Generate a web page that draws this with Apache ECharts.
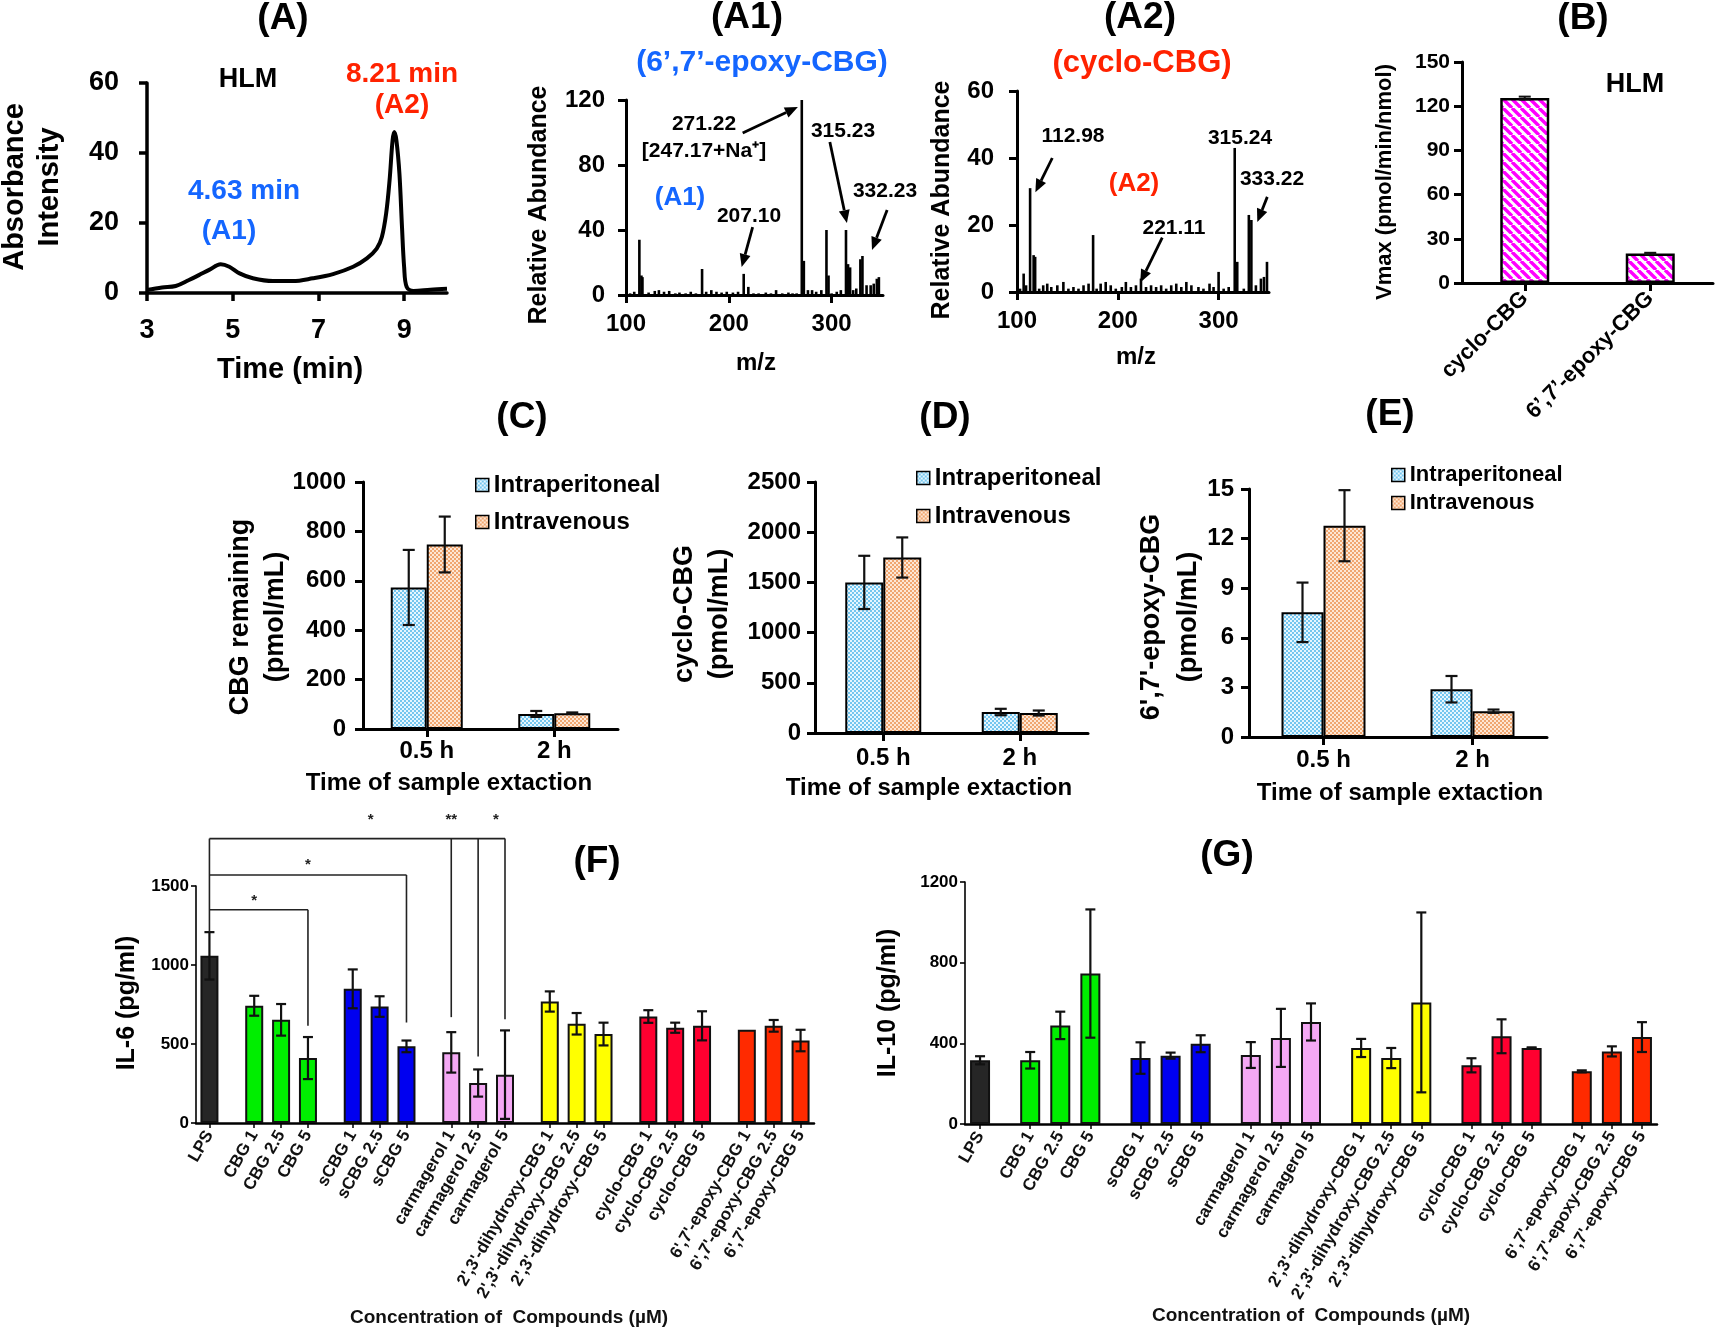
<!DOCTYPE html>
<html><head><meta charset="utf-8">
<script src="https://cdn.jsdelivr.net/npm/echarts/dist/echarts.min.js"></script>
<style>html,body{margin:0;padding:0;background:#fff}#c{width:1718px;height:1331px}</style>
</head><body><div id="c"></div>
<script>
// ================= DATA =================
// (A) HLM chromatogram
const chromTime = [3.0,3.35,3.67,3.98,4.21,4.45,4.72,4.92,5.16,5.47,5.94,6.40,6.87,7.34,7.81,8.13,8.36,8.48,8.58,8.66,8.73,8.77,8.82,8.89,8.95,9.0,9.06,9.22,9.61,10.0];
const chromAbs  = [0.9,1.6,2.0,3.7,5.1,6.6,8.2,7.5,5.6,4.2,3.4,3.4,4.2,5.4,7.5,9.9,12.7,16.0,22.7,32.2,43.6,46.0,43.6,34.1,18.8,7.4,1.7,0.6,0.95,1.2];
const chromXTicks = [3,5,7,9];

// (A1) mass spectrum of 6',7'-epoxy-CBG
const a1Mz  = [104,108,113,115,116,122,128,132,137,142,148,152,158,163,168,174,178,183,188,193,198,204,209,214.5,219,224,229,236,241,246,252,258,262,266,271,273,277,281,285,290,295,297,300,305,309,314,316,318,321,324,328,330,334,338,341,344,346];
const a1Int = [1,2,34,12,11,1.5,2.5,3,2,2.5,1,1.5,1,2,1,16,2,3,2,1.5,2,1.5,2,13,5,1,1,1.5,1,3,1,1.5,1,1,120,21,3,3,2,3,40,12,1,2,3,40,19,17,3,4,22,24,6,6,7,10,11];
const a1Arrows = [[213.5,99.7,267.2,115.7],[298.3,94.2,314.9,44.3],[354,52.3,339.3,27.7],[223.2,41.8,212.5,17.2]];

// (A2) mass spectrum of cyclo-CBG
const a2Mz  = [103,106.6,109,113,116.5,118,122,126,130,134,140,146,151,156,161,166,171,175.5,179,183,188,193,198,204,208,213,218,223,228,233,238,243,248,253,258,263,268,273,280,285,291,295,300,305,310,316,318.5,325,330,332.5,337,342,345,348];
const a2Int = [1,5.5,2,31,11,10.5,1,2,2.5,1.5,2,3,1,1.5,1,2,2.5,17,1,2.5,3,2,1,1.5,3,1.5,2,4,1.5,2,1.5,2,1,2,2.5,1.5,3,2,1.5,1,2.5,1.5,6,1,1.5,43,9,1,23,21.5,2,4,4.5,9];
const a2Arrows = [[135,40,118.2,29.8],[244.1,16.2,222.3,2.8],[348.3,28.4,338.4,20.9]];
const msXTicks = [100,200,300];

// (B) Vmax HLM
const vmaxCats = ['cyclo-CBG', '6\u2019,7\u2019-epoxy-CBG'];
const vmaxVals = [125.5, 20];
const vmaxErr  = [1, 0.5];

// (C)(D)(E) in vivo
const timeCats = ['0.5 h', '2 h'];
const routeNames = ['Intraperitoneal', 'Intravenous'];
const cbgIP = [573, 61];    const cbgIPErr = [152, 12];
const cbgIV = [747, 64];    const cbgIVErr = [113, 3];
const cycIP = [1500, 209];  const cycIPErr = [265, 32];
const cycIV = [1748, 199];  const cycIVErr = [200, 25];
const epoIP = [7.54, 2.89]; const epoIPErr = [1.8, 0.8];
const epoIV = [12.78, 1.56];const epoIVErr = [2.15, 0.1];

// (F)(G) cytokines
const cmpGroups = [
  ['LPS'],
  ['CBG 1','CBG 2.5','CBG 5'],
  ['sCBG 1','sCBG 2.5','sCBG 5'],
  ['carmagerol 1','carmagerol 2.5','carmagerol 5'],
  ["2',3'-dihydroxy-CBG 1","2',3'-dihydroxy-CBG 2.5","2',3'-dihydroxy-CBG 5"],
  ['cyclo-CBG 1','cyclo-CBG 2.5','cyclo-CBG 5'],
  ["6',7'-epoxy-CBG 1","6',7'-epoxy-CBG 2.5","6',7'-epoxy-CBG 5"]
];
const cmpColors = ['#262626','#00ee00','#0000f0','#f4a8f4','#ffff00','#ff0030','#ff2a00'];
const il6Mean = [1058, 742,653,411, 849,737,485, 447,253,306, 769,628,563, 674,603,615, 590,615,522];
const il6Err  = [150, 63,100,133, 123,65,37, 128,86,280, 64,68,72, 40,32,92, 0,37,68];
const il10Mean = [316, 316,489,746, 327,339,398, 342,427,506, 377,327,603, 291,435,377, 261,360,431];
const il10Err  = [20, 41,68,318, 78,15,42, 64,144,92, 45,50,446, 35,84,3, 5,25,74];
// significance brackets (IL-6): from LPS to target, level, drop ends, stars (label index, y value)
const il6Sig = [
  {level:1350, end:3, drops:[[3,615]], stars:[['*',1,1432]]},
  {level:1570, end:6, drops:[[6,636]], stars:[['*',3,1658]]},
  {level:1800, end:9, drops:[[7,670],[8,421],[9,657]], stars:[['*',4.63,1942],['**',7,1942],['*',8.54,1942]]}
];

// ================= BUILD =================
const FONT = '"Liberation Sans", Arial, sans-serif';
const bold = s => 'bold ' + s + 'px ' + FONT;
const chart = echarts.init(document.getElementById('c'), null, {renderer:'canvas'});

function pattern(w, draw){ const c=document.createElement('canvas'); c.width=w; c.height=w; draw(c.getContext('2d'), w); return {image:c, repeat:'repeat'}; }
const stripePat = pattern(9, (g,w)=>{ g.fillStyle='#fff'; g.fillRect(0,0,w,w); g.strokeStyle='#ff00ff'; g.lineWidth=3.4; g.beginPath(); for(let k=-w;k<=w;k+=w){ g.moveTo(k,0); g.lineTo(k+w,w);} g.stroke(); });
function dotPat(bg, fg){ return pattern(4,(g)=>{ g.fillStyle=bg; g.fillRect(0,0,4,4); g.fillStyle=fg; g.fillRect(0,0,2,2); g.fillRect(2,2,2,2); }); }
const ipPat = dotPat('#e6f6fe', '#74c6ef');
const ivPat = dotPat('#fde7d5', '#f0a670');

function merge(a,b){ for(const k in b){ if(b[k] && typeof b[k]==='object' && !Array.isArray(b[k]) && a[k] && typeof a[k]==='object'){ merge(a[k], b[k]); } else a[k]=b[k]; } return a; }
const plain = v => String(v);
function axisBase(gi, fs, lw){
  return {gridIndex:gi, splitLine:{show:false},
    axisLine:{show:true, onZero:false, lineStyle:{color:'#000', width:lw}},
    axisTick:{show:true, length:8, lineStyle:{color:'#000', width:lw}},
    axisLabel:{color:'#000', fontFamily:FONT, fontWeight:'bold', fontSize:fs}};
}

const grids = [
  {left:147, top:83, width:300, height:210},   // A
  {left:626, top:100, width:257, height:195},  // A1
  {left:1017, top:91, width:252, height:201},  // A2
  {left:1462, top:62, width:251, height:221},  // B
  {left:363, top:482, width:255, height:247},  // C
  {left:815, top:482, width:273, height:251},  // D
  {left:1249, top:489, width:298, height:248}, // E
  {left:196, top:886, width:618, height:237},  // F
  {left:965, top:882, width:692, height:242}   // G
];

// F/G slot layout
const cmpLabels = cmpGroups.flat();
const cmpGroupOf = []; cmpGroups.forEach((g,gi)=>g.forEach(()=>cmpGroupOf.push(gi)));
const slotOf = []; { let s=1; cmpGroups.forEach(g=>{ g.forEach(()=>{ slotOf.push(s); s+=3; }); s+=2; }); }
const slotCount = slotOf[slotOf.length-1] + 2;
const slotCats = Array.from({length:slotCount}, ()=> '');
slotOf.forEach((k,i)=>{ slotCats[k] = cmpLabels[i]; });
const slotAt = f => { const i=Math.floor(f), j=Math.min(i+1, slotOf.length-1); return slotOf[i] + (f-i)*(slotOf[j]-slotOf[i]); };

const xAxes = [
  merge(axisBase(0,27,3.5), {type:'value', min:3, max:10, axisTick:{customValues:chromXTicks}, axisLabel:{customValues:chromXTicks, margin:24, formatter:plain}}),
  merge(axisBase(1,24,3), {type:'value', min:100, max:350, axisTick:{customValues:msXTicks}, axisLabel:{customValues:msXTicks, margin:17, formatter:plain}}),
  merge(axisBase(2,24,3), {type:'value', min:100, max:350, axisTick:{customValues:msXTicks}, axisLabel:{customValues:msXTicks, margin:17, formatter:plain}}),
  merge(axisBase(3,22,3), {type:'category', data:vmaxCats, axisTick:{alignWithLabel:true}, axisLabel:{rotate:45, margin:12, interval:0}}),
  merge(axisBase(4,24,3), {type:'category', data:timeCats, axisTick:{alignWithLabel:true}, axisLabel:{margin:10}}),
  merge(axisBase(5,24,3), {type:'category', data:timeCats, axisTick:{alignWithLabel:true}, axisLabel:{margin:13}}),
  merge(axisBase(6,24,3), {type:'category', data:timeCats, axisTick:{alignWithLabel:true}, axisLabel:{margin:11}}),
];
const showSlot = (idx, val) => val !== '';
[7,8].forEach(gi=>{
  xAxes.push(merge(axisBase(gi,17,2.5), {type:'category', data:slotCats,
    axisTick:{alignWithLabel:true, interval:showSlot, length:5, lineStyle:{width:1.5}},
    axisLabel:{interval:showSlot, rotate:60, margin:9, fontSize:17, color:'#111'}}));
});

const yAxes = [
  merge(axisBase(0,27,3.5), {type:'value', min:0, max:60, interval:20, axisLabel:{margin:28, formatter:plain}}),
  merge(axisBase(1,24,3), {type:'value', min:0, max:120, interval:40, axisLabel:{margin:21, formatter:plain}}),
  merge(axisBase(2,24,3), {type:'value', min:0, max:60, interval:20, axisLabel:{margin:23, formatter:plain}}),
  merge(axisBase(3,21,3), {type:'value', min:0, max:150, interval:30, axisLabel:{margin:12, formatter:plain}}),
  merge(axisBase(4,24,3), {type:'value', min:0, max:1000, interval:200, axisLabel:{margin:17, formatter:plain}}),
  merge(axisBase(5,24,3), {type:'value', min:0, max:2500, interval:500, axisLabel:{margin:14, formatter:plain}}),
  merge(axisBase(6,24,3), {type:'value', min:0, max:15, interval:3, axisLabel:{margin:15, formatter:plain}}),
  merge(axisBase(7,17,1.6), {type:'value', min:0, max:1500, interval:500, axisTick:{length:5}, axisLabel:{margin:7, formatter:plain}}),
  merge(axisBase(8,17,1.6), {type:'value', min:0, max:1200, interval:400, axisTick:{length:5}, axisLabel:{margin:7, formatter:plain}})
];

function stickSeries(ai, mz, inten){
  return {type:'custom', xAxisIndex:ai, yAxisIndex:ai, data: mz.map((m,i)=>[m, inten[i]]), z:3,
    renderItem:(p,api)=>{ const a=api.coord([api.value(0),0]), b=api.coord([api.value(0),api.value(1)]);
      return {type:'line', shape:{x1:a[0],y1:a[1],x2:b[0],y2:b[1]}, style:{stroke:'#000', lineWidth:2.6}}; }};
}
function arrowSeries(ai, arr){
  return {type:'custom', xAxisIndex:ai, yAxisIndex:ai, data: arr, z:5, clip:false,
    renderItem:(p,api)=>{ const a=api.coord([api.value(0),api.value(1)]), b=api.coord([api.value(2),api.value(3)]);
      const dx=b[0]-a[0], dy=b[1]-a[1], L=Math.hypot(dx,dy), ux=dx/L, uy=dy/L, h=13, w=5.5;
      const bx=b[0]-ux*h, by=b[1]-uy*h;
      return {type:'group', children:[
        {type:'line', shape:{x1:a[0],y1:a[1],x2:bx,y2:by}, style:{stroke:'#000', lineWidth:2.8}},
        {type:'polygon', shape:{points:[[b[0],b[1]],[bx-uy*w,by+ux*w],[bx+uy*w,by-ux*w]]}, style:{fill:'#000'}}]}; }};
}
function errSeries(ai, items, cap, lw, offset){
  // items: [cat, mean, err, sign]
  return {type:'custom', xAxisIndex:ai, yAxisIndex:ai, data: items, z:6, clip:false,
    renderItem:(p,api)=>{ const c=api.value(0), m=api.value(1), e=api.value(2), sg=api.value(3)||0;
      if(!e) return null;
      const t=api.coord([c,m+e]), b=api.coord([c,m-e]); const x=t[0]+sg*offset;
      return {type:'group', children:[
        {type:'line', shape:{x1:x,y1:t[1],x2:x,y2:b[1]}, style:{stroke:'#111', lineWidth:lw}},
        {type:'line', shape:{x1:x-cap,y1:t[1],x2:x+cap,y2:t[1]}, style:{stroke:'#111', lineWidth:lw}},
        {type:'line', shape:{x1:x-cap,y1:b[1],x2:x+cap,y2:b[1]}, style:{stroke:'#111', lineWidth:lw}}]}; }};
}
function routeBars(ai, ip, iv, bw){
  const st = {borderColor:'#000', borderWidth:2};
  return [
    {type:'bar', name:routeNames[0], xAxisIndex:ai, yAxisIndex:ai, data:ip, barWidth:bw, barGap:'0%', itemStyle:Object.assign({color:ipPat}, st)},
    {type:'bar', name:routeNames[1], xAxisIndex:ai, yAxisIndex:ai, data:iv, barWidth:bw, barGap:'0%', itemStyle:Object.assign({color:ivPat}, st)}
  ];
}
function routeErr(ai, ip, ipE, iv, ivE, bw, cap){
  const items = [];
  ip.forEach((v,i)=>items.push([i, v, ipE[i], -1]));
  iv.forEach((v,i)=>items.push([i, v, ivE[i], 1]));
  return errSeries(ai, items, cap, 2.2, bw/2);
}
function cytoBars(ai, mean, bw){
  const data = slotCats.map(()=>'-');
  slotOf.forEach((k,i)=>{ data[k] = {value:mean[i], itemStyle:{color:cmpColors[cmpGroupOf[i]]}}; });
  return {type:'bar', xAxisIndex:ai, yAxisIndex:ai, data, barWidth:bw, itemStyle:{borderColor:'#111', borderWidth:2}};
}
function cytoErr(ai, mean, err, cap){
  return errSeries(ai, slotOf.map((k,i)=>[k, mean[i], err[i], 0]), cap, 2.2, 0);
}
const sigSeries = {type:'custom', xAxisIndex:7, yAxisIndex:7, clip:false, z:7,
  data: il6Sig.map(b=>[slotOf[0], b.level]),
  renderItem:(p,api)=>{
    const b = il6Sig[p.dataIndex]; const ch=[]; const ln=(a,c)=>ch.push({type:'line', shape:{x1:a[0],y1:a[1],x2:c[0],y2:c[1]}, style:{stroke:'#222', lineWidth:1.6}});
    ln(api.coord([slotOf[0], b.level]), api.coord([slotOf[b.end], b.level]));
    if (p.dataIndex === il6Sig.length-1) ln(api.coord([slotOf[0], b.level]), api.coord([slotOf[0], il6Mean[0]+il6Err[0]+5]));
    b.drops.forEach(([i,v])=>ln(api.coord([slotOf[i], b.level]), api.coord([slotOf[i], v])));
    b.stars.forEach(([s,f,v])=>{ const q=api.coord([slotAt(f), v]); ch.push({type:'text', x:q[0], y:q[1]+4, style:{text:s, font:bold(15), fill:'#222', align:'center', verticalAlign:'middle'}}); });
    return {type:'group', children:ch};
  }};

const series = [
  {type:'line', xAxisIndex:0, yAxisIndex:0, data: chromTime.map((t,i)=>[t, chromAbs[i]]), smooth:0.35, symbol:'none', lineStyle:{color:'#000', width:4}},
  stickSeries(1, a1Mz, a1Int), arrowSeries(1, a1Arrows),
  stickSeries(2, a2Mz, a2Int), arrowSeries(2, a2Arrows),
  {type:'bar', xAxisIndex:3, yAxisIndex:3, data:vmaxVals, barWidth:49, itemStyle:{color:stripePat, borderColor:'#000', borderWidth:2.5}},
  errSeries(3, vmaxVals.map((v,i)=>[i, v, vmaxErr[i], 0]), 6, 2, 0),
  ...routeBars(4, cbgIP, cbgIV, 36), routeErr(4, cbgIP, cbgIPErr, cbgIV, cbgIVErr, 36, 6),
  ...routeBars(5, cycIP, cycIV, 38), routeErr(5, cycIP, cycIPErr, cycIV, cycIVErr, 38, 6),
  ...routeBars(6, epoIP, epoIV, 42), routeErr(6, epoIP, epoIPErr, epoIV, epoIVErr, 42, 6),
  cytoBars(7, il6Mean, 18), cytoErr(7, il6Mean, il6Err, 5), sigSeries,
  cytoBars(8, il10Mean, 20), cytoErr(8, il10Mean, il10Err, 5)
];

function legendAt(left, top, fs, gap){
  return {data:routeNames, orient:'vertical', left, top, padding:0, itemWidth:13, itemHeight:13, itemGap:gap, itemTextGap:5,
    icon:'rect', selectedMode:false, itemStyle:{borderColor:'#000', borderWidth:1.5},
    textStyle:{fontFamily:FONT, fontWeight:'bold', fontSize:fs, lineHeight:fs, color:'#000'}};
}

const BLUE = '#1466ff', RED = '#ff2200';
function T(text, x, y, size, color, rot, lh){
  return {type:'text', x, y, rotation: rot||0, z:100, silent:true,
    style:{text, font:bold(size), fill:color||'#000', align:'center', verticalAlign:'middle', lineHeight:lh||size}};
}
const V = Math.PI/2;
const graphics = [
  T('(A)',283,19,37), T('(A1)',747,18,37), T('(A2)',1140,18,37), T('(B)',1583,19,37),
  T('(C)',522,418,37), T('(D)',945,418,37), T('(E)',1390,415,37), T('(F)',597,862,37), T('(G)',1227,856,37),
  T('(6\u2019,7\u2019-epoxy-CBG)',762,63,30,BLUE), T('(cyclo-CBG)',1142,63,31,RED),
  T('HLM',248,80,27), T('8.21 min',402,74,28,RED), T('(A2)',402,105,28,RED),
  T('4.63 min',244,191,28,BLUE), T('(A1)',229,231,28,BLUE),
  T('Absorbance\nIntensity',32,187,29,'#000',V,35), T('Time (min)',290,370,29),
  T('271.22',704,124,21), T('[247.17+Na\u207A]',704,151,21), T('315.23',843,131,21), T('332.23',885,191,21), T('207.10',749,216,21),
  T('(A1)',680,198,26,BLUE), T('Relative Abundance',539,205,25,'#000',V), T('m/z',756,363,24),
  T('112.98',1073,136,21), T('(A2)',1134,184,26,RED), T('221.11',1174,228,21), T('315.24',1240,138,21), T('333.22',1272,179,21),
  T('Relative Abundance',942,200,25,'#000',V), T('m/z',1136,357,24),
  T('HLM',1635,85,27), T('Vmax (pmol/min/nmol)',1385,182,22,'#000',V),
  T('CBG remaining\n(pmol/mL)',258,617,27,'#000',V,35), T('Time of sample extaction',449,783,24),
  T('cyclo-CBG\n(pmol/mL)',702,614,27,'#000',V,35), T('Time of sample extaction',929,788,24),
  T('6\',7\'-epoxy-CBG\n(pmol/mL)',1170,617,27,'#000',V,37), T('Time of sample extaction',1400,793,24),
  T('IL-6 (pg/ml)',127,1003,25,'#000',V), T('IL-10 (pg/ml)',888,1003,25,'#000',V),
  T('Concentration of  Compounds (\u00B5M)',509,1318,19,'#111'), T('Concentration of  Compounds (\u00B5M)',1311,1316,19,'#111')
];

chart.setOption({
  backgroundColor:'#fff', animation:false,
  grid: grids, xAxis: xAxes, yAxis: yAxes, series,
  legend:[legendAt(475,473,24,13), legendAt(916,466,24,14), legendAt(1391,464,22,6)],
  graphic: graphics
});
</script>
</body></html>
